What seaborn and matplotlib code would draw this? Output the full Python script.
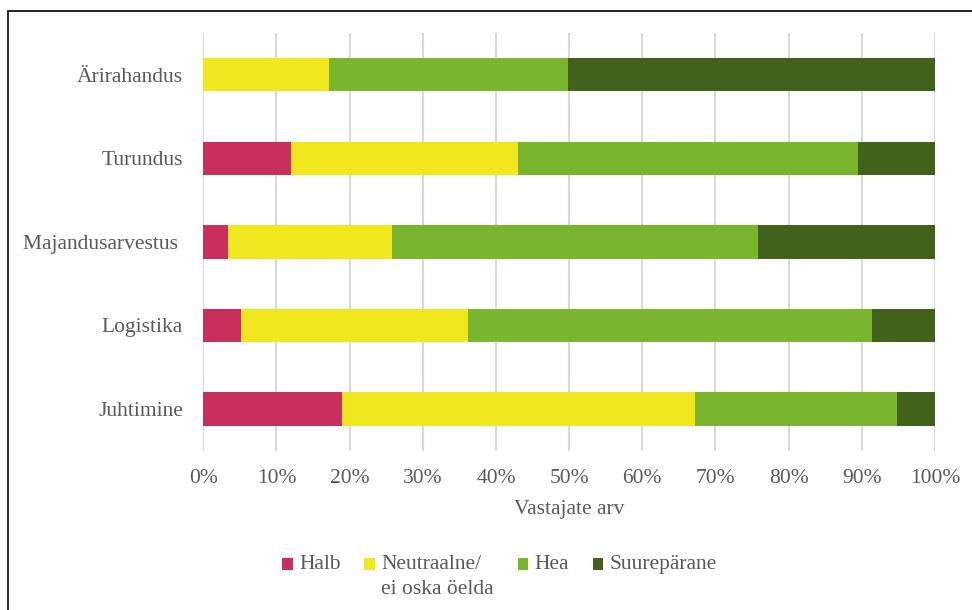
import matplotlib
matplotlib.use("Agg")
import matplotlib.pyplot as plt
from matplotlib.patches import Patch, Rectangle
import numpy as np
import pandas as pd
import seaborn as sns

categories = ["Ärirahandus", "Turundus", "Majandusarvestus ", "Logistika", "Juhtimine"]
series_names = ["Halb", "Neutraalne/\nei oska öelda", "Hea", "Suurepärane"]
halb = [0.0, 12.0, 3.4, 5.1, 19.0]
neutraalne = [17.2, 31.0, 22.4, 31.1, 48.2]
hea = [32.7, 46.5, 50.0, 55.2, 27.6]
suureparane = [50.1, 10.5, 24.2, 8.6, 5.2]
colors = ["#C92F5D", "#F0E71E", "#7AB52E", "#42611A"]
xticks = [0, 10, 20, 30, 40, 50, 60, 70, 80, 90, 100]
xlabel = "Vastajate arv"

sns.set_theme(style="white")
plt.rcParams["font.family"] = ["Liberation Serif", "DejaVu Serif"]
text_color = "#595959"
FS = 15.5

W, H = 972, 610
fig = plt.figure(figsize=(W / 100, H / 100), dpi=100)
ax = fig.add_axes([203.3 / W, 1 - 450.7 / H, (935 - 203.3) / W, (450.7 - 33) / H])

series = [halb, neutraalne, hea, suureparane]
cum = np.cumsum(np.array(series), axis=0)
# draw from the largest cumulative (full stack) down so each layer shows
for i in range(len(series) - 1, -1, -1):
    df = pd.DataFrame({"cat": categories, "val": cum[i]})
    sns.barplot(data=df, y="cat", x="val", orient="h", color=colors[i],
                width=0.4, ax=ax, saturation=1, edgecolor="none", linewidth=0)

ax.set_xlim(0, 100)
ax.set_xticks(xticks)
ax.set_xticklabels([f"{t}%" for t in xticks])
ax.grid(axis="x", color="#D9D9D9", linewidth=1.5)
ax.grid(axis="y", visible=False)
ax.set_axisbelow(True)
for s in ax.spines.values():
    s.set_visible(False)
ax.tick_params(axis="both", length=0, labelsize=FS, colors=text_color)
ax.tick_params(axis="y", pad=14.5)
ax.tick_params(axis="x", pad=13)
ax.set_ylabel("")
ax.set_xlabel(xlabel, fontsize=FS, color=text_color, labelpad=9)

# make every legend label two lines so the first lines share a row
labels = [n if "\n" in n else n + "\n" for n in series_names]
handles = [Patch(facecolor=c, edgecolor="none") for c in colors]
leg = fig.legend(handles, labels, loc="center", ncol=4,
                 bbox_to_anchor=(499.5 / W, 1 - 577 / H), frameon=False,
                 prop={"size": FS}, handlelength=0.48, handleheight=0.48,
                 handletextpad=0.3, columnspacing=1.1)
for t in leg.get_texts():
    t.set_color(text_color)
    t.set_linespacing(1.4)
# lift the square markers to the first text line
shift_pt = 12 * 72 / 100
for h in leg.legend_handles:
    h.set_y(h.get_y() + shift_pt)

fig.add_artist(Rectangle((8 / W, -0.1), 1.2, 1.1 - 11 / H, transform=fig.transFigure,
                         fill=False, edgecolor="black", linewidth=1.2))

fig.savefig("out.png", dpi=100)
